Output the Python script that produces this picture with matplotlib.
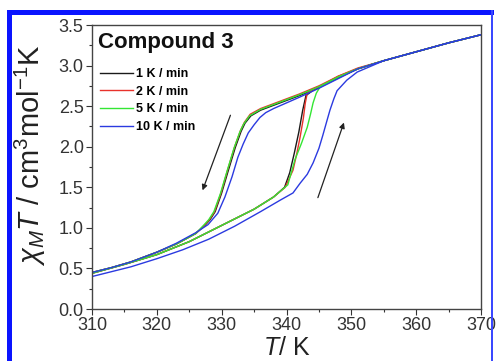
import numpy as np
import matplotlib
matplotlib.use('Agg')
import matplotlib.pyplot as plt
from matplotlib.patches import Rectangle
from matplotlib.ticker import MultipleLocator

plt.rcParams['font.family'] = ['Liberation Sans', 'DejaVu Sans']
plt.rcParams['mathtext.fontset'] = 'custom'
plt.rcParams['mathtext.rm'] = 'Liberation Sans'
plt.rcParams['mathtext.it'] = 'Liberation Sans:italic'

# shared high temperature branch
T_high = [351, 355, 360, 365, 370]
chi_high = [2.96, 3.06, 3.17, 3.28, 3.38]

# cooling branches (from 351 K down)
T_cool_1 = [351, 348, 345, 342, 340, 338, 336, 334.5, 333.6, 333.0, 332.1, 331.0, 330.0, 329.0, 328.2, 327.4, 326, 323, 320, 316, 313, 310]
chi_cool_1 = [2.96, 2.85, 2.73, 2.63, 2.57, 2.51, 2.45, 2.38, 2.29, 2.19, 1.99, 1.70, 1.43, 1.20, 1.10, 1.03, 0.93, 0.80, 0.70, 0.58, 0.51, 0.45]
T_cool_2 = [351, 348, 345, 342, 340, 338, 336, 334.4, 333.5, 332.9, 332.0, 330.9, 329.9, 328.9, 328.1, 327.3, 326, 323, 320, 316, 313, 310]
chi_cool_2 = [2.97, 2.87, 2.75, 2.65, 2.59, 2.53, 2.47, 2.40, 2.30, 2.20, 2.00, 1.71, 1.43, 1.20, 1.10, 1.03, 0.93, 0.80, 0.70, 0.58, 0.51, 0.45]
T_cool_5 = [351, 348, 345, 342, 340, 338, 336, 334.3, 333.4, 332.8, 331.9, 330.8, 329.8, 328.8, 328.0, 327.2, 326, 323, 320, 316, 313, 310]
chi_cool_5 = [2.96, 2.86, 2.74, 2.64, 2.58, 2.52, 2.46, 2.38, 2.28, 2.18, 1.98, 1.69, 1.42, 1.20, 1.10, 1.03, 0.93, 0.80, 0.70, 0.58, 0.51, 0.45]
T_cool_10 = [351, 348, 345, 342, 340, 338, 336.8, 335.9, 335.0, 334.1, 333.3, 332.5, 331.6, 330.5, 329.4, 327.9, 326, 323, 320, 316, 313, 310]
chi_cool_10 = [2.95, 2.84, 2.72, 2.61, 2.54, 2.47, 2.42, 2.36, 2.27, 2.17, 2.03, 1.87, 1.63, 1.38, 1.18, 1.04, 0.94, 0.81, 0.70, 0.58, 0.51, 0.45]

# heating branches (from 310 K up)
T_heat_1 = [310, 315, 320, 325, 330, 335, 338, 339.7, 340.5, 341.2, 341.9, 342.5, 343.0, 344, 346, 348, 351]
chi_heat_1 = [0.44, 0.55, 0.67, 0.83, 1.03, 1.23, 1.38, 1.50, 1.68, 1.92, 2.18, 2.45, 2.63, 2.69, 2.77, 2.86, 2.96]
T_heat_2 = [310, 315, 320, 325, 330, 335, 338, 339.8, 341.0, 341.6, 342.1, 342.6, 342.9, 343.2, 344, 346, 348, 351]
chi_heat_2 = [0.44, 0.55, 0.67, 0.83, 1.03, 1.23, 1.38, 1.50, 1.71, 1.92, 2.12, 2.35, 2.54, 2.66, 2.70, 2.78, 2.87, 2.97]
T_heat_5 = [310, 315, 320, 325, 330, 335, 338, 340.2, 341.3, 342.3, 343.2, 343.7, 344.1, 344.6, 345.2, 346, 348, 351]
chi_heat_5 = [0.44, 0.55, 0.67, 0.83, 1.03, 1.23, 1.38, 1.53, 1.84, 2.04, 2.24, 2.40, 2.54, 2.66, 2.74, 2.77, 2.86, 2.96]
T_heat_10 = [310, 313, 316, 320, 324, 328, 332, 336, 339, 341, 342.1, 343.2, 344.1, 345.0, 345.6, 346.2, 346.7, 347.3, 347.8, 349.3, 350.9]
chi_heat_10 = [0.40, 0.46, 0.52, 0.62, 0.73, 0.86, 1.02, 1.20, 1.34, 1.43, 1.55, 1.66, 1.80, 1.98, 2.14, 2.31, 2.45, 2.59, 2.69, 2.82, 2.92]

labels = ['1 K / min', '2 K / min', '5 K / min', '10 K / min']
colors = ['#1a1a1a', '#e8322b', '#33e633', '#2b3ae0']

cool = [(T_cool_1, chi_cool_1), (T_cool_2, chi_cool_2), (T_cool_5, chi_cool_5), (T_cool_10, chi_cool_10)]
heat = [(T_heat_1, chi_heat_1), (T_heat_2, chi_heat_2), (T_heat_5, chi_heat_5), (T_heat_10, chi_heat_10)]

fig = plt.figure(figsize=(4.96, 3.61), dpi=100)
ax = fig.add_axes([92/496, 52/361, 389/496, 284/361])

for (tc, cc), (th, ch), lab, col in zip(cool, heat, labels, colors):
    ax.plot(T_high[::-1] + tc[1:], chi_high[::-1] + cc[1:], color=col, lw=1.0, label=lab)
    ax.plot(th + T_high[1:], ch + chi_high[1:], color=col, lw=1.0)

# arrows
ax.annotate('', xy=(326.9, 1.43), xytext=(331.5, 2.42),
            arrowprops=dict(arrowstyle='-|>', color='#222222', lw=0.9, mutation_scale=8))
ax.annotate('', xy=(349.0, 2.33), xytext=(344.7, 1.34),
            arrowprops=dict(arrowstyle='-|>', color='#222222', lw=0.9, mutation_scale=8))

ax.set_xlim(310, 370)
ax.set_ylim(0, 3.5)
ax.xaxis.set_major_locator(MultipleLocator(10))
ax.xaxis.set_minor_locator(MultipleLocator(5))
ax.yaxis.set_major_locator(MultipleLocator(0.5))
ax.yaxis.set_minor_locator(MultipleLocator(0.25))
ax.set_yticks(np.arange(0, 3.51, 0.5))
ax.set_yticklabels(['%.1f' % v for v in np.arange(0, 3.51, 0.5)])
ax.tick_params(which='major', direction='out', length=4, width=0.8, labelsize=13,
               colors='#333333', pad=2)
ax.tick_params(which='minor', direction='out', length=2.5, width=0.8, colors='#333333')
for s in ax.spines.values():
    s.set_color('#444444')
    s.set_linewidth(1.0)

ax.set_xlabel(r'$T$/ K', fontsize=18, color='#222222')
ax.xaxis.label.set_va('baseline')
ax.xaxis.set_label_coords(0.5, -0.162)
ax.set_ylabel(r'$\chi_M T$ / cm$^3$mol$^{-1}$K', fontsize=21, color='#222222')
ax.yaxis.set_label_coords(-0.112, 0.54)

ax.text(0.015, 0.94, 'Compound 3', transform=ax.transAxes, fontsize=16,
        fontweight='bold', va='center', ha='left', color='#111111')
ax.legend(loc='upper left', bbox_to_anchor=(0.0, 0.875), frameon=False,
          prop={'size': 9, 'weight': 'bold'}, handlelength=2.7, handletextpad=0.2,
          labelspacing=0.45, borderaxespad=0.2)

# blue frame around the figure
fig.patches.append(Rectangle((7/496, 0), 5/496, (361-10)/361, transform=fig.transFigure,
                             facecolor='#0a14ff', edgecolor='none'))
fig.patches.append(Rectangle((7/496, (361-15)/361), (494-7)/496, 5/361, transform=fig.transFigure,
                             facecolor='#0a14ff', edgecolor='none'))
fig.patches.append(Rectangle((491/496, 0), 2/496, (361-10)/361, transform=fig.transFigure,
                             facecolor='#3a48ff', edgecolor='none'))

fig.savefig('out.png', dpi=100)
